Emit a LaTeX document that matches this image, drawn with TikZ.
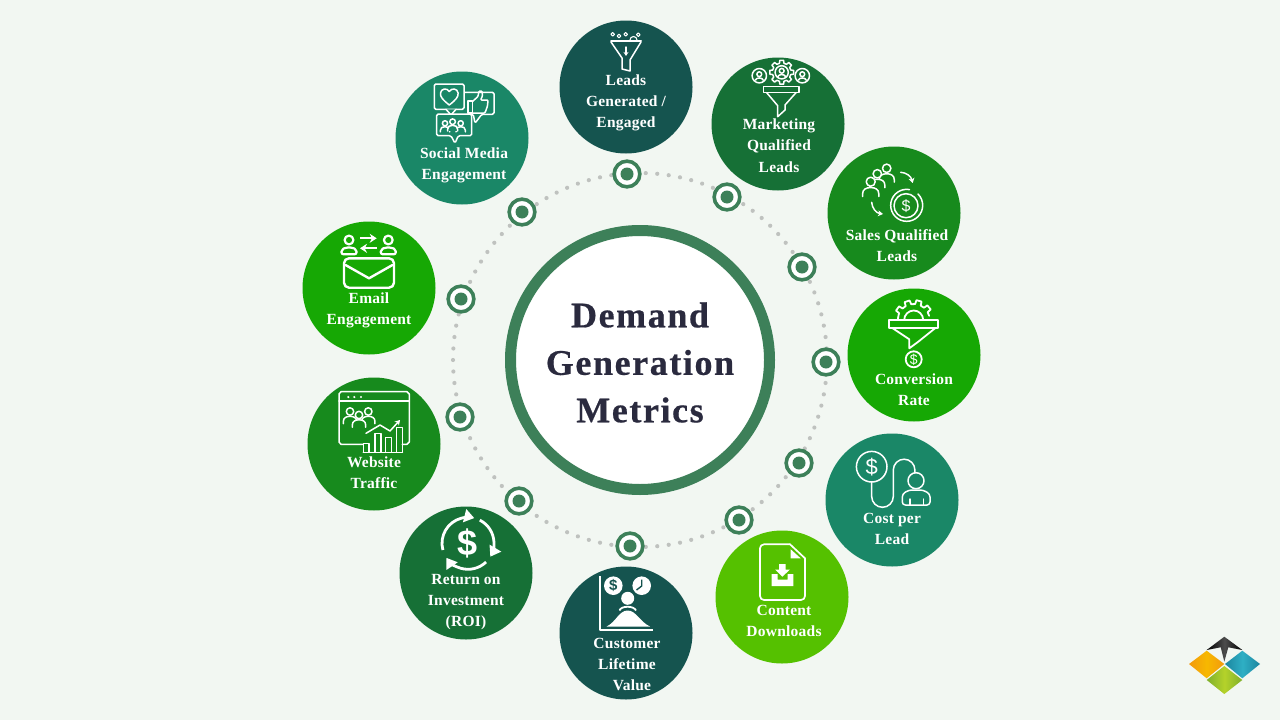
\documentclass[tikz,border=0pt]{standalone}
\usepackage{fontspec}
\setmainfont{Liberation Serif}
\newfontfamily\labelfont[LetterSpace=1.5]{Liberation Serif}
\newfontfamily\titlefont[LetterSpace=4.4, BoldFeatures={FakeBold=0.5}]{Liberation Serif}
\newfontfamily\signfont{Liberation Sans}
\usetikzlibrary{arrows.meta}

\definecolor{pagebg}{HTML}{F2F7F2}
\definecolor{ringgreen}{HTML}{3D8059}
\definecolor{dotgrey}{HTML}{BFC2BF}
\definecolor{titleink}{HTML}{2A2A3E}
\definecolor{deepteal}{HTML}{15544F}
\definecolor{forest}{HTML}{167036}
\definecolor{midgreen}{HTML}{178A1D}
\definecolor{brightgreen}{HTML}{16A804}
\definecolor{seagreen}{HTML}{1A8767}
\definecolor{limegreen}{HTML}{55C100}
\definecolor{logoamber}{HTML}{F39A0E}
\definecolor{logoyellow}{HTML}{F7B800}
\definecolor{logoteal}{HTML}{1C86A0}
\definecolor{logocyan}{HTML}{2FAFC4}
\definecolor{logoleaf}{HTML}{7FB02C}
\definecolor{logolime}{HTML}{B5D22A}

\tikzset{
	metric/.style = {circle, minimum size = 133, inner sep = 0, outer sep = 0},
	metrictext/.style = {text = white, align = center, inner sep = 0,
		font = \labelfont\bfseries\fontsize{15.5}{21.3}\selectfont},
	marker/.style = {circle, draw = ringgreen, line width = 3.6, fill = white, minimum size = 25.7, inner sep = 0},
	markercore/.style = {circle, fill = ringgreen, minimum size = 13, inner sep = 0},
	icon/.style = {draw = white, line width = 1.5, line join = round, line cap = round},
	dollar/.style = {text = white, inner sep = 0, font = \signfont\fontsize{#1}{#1}\selectfont},
	dollar/.default = 14,
	tip/.style = {-{Stealth[length = 5, width = 6]}}
}

\newcommand{\bust}[4]{%
	\begin{scope}[shift = {(#1, #2)}, scale = #3]
		\draw[icon, fill = #4] (-1.8, 3.3) -- (-1.8, 2.7) .. controls (-1.8, 1.7) and (-1, 1.3) .. (0, 1.3)
			.. controls (1, 1.3) and (1.8, 1.7) .. (1.8, 2.7) -- (1.8, 3.3);
		\draw[icon, fill = #4] (0, 0) circle (1);
	\end{scope}}

\newcommand{\gearoutline}[3]{%
	\begin{scope}[shift = {(#1, #2)}, scale = #3]
		\draw[icon] \foreach \a in {0, 45, ..., 315} {
			(\a - 14:1) -- (\a - 9:1.3) -- (\a + 9:1.3) -- (\a + 14:1) arc[start angle = \a + 14, end angle = \a + 31, radius = 1]};
	\end{scope}}

\begin{document}
\begin{tikzpicture}[x = 1pt, y = -1pt]
	\useasboundingbox (0, 0) rectangle (1280, 720);
	\fill[pagebg] (0, 0) rectangle (1280, 720);

	%	dotted ring
	\foreach \i in {1, ..., 102}
		\fill[dotgrey] (640, 360) ++(\i / 102 * 360:187) circle (2.1);

	%	centre
	\node[circle, draw = ringgreen, line width = 11, fill = white, minimum size = 259, inner sep = 0] (hub) at (640, 360) {};
	\node[text = titleink, align = center, inner sep = 0, font = \titlefont\bfseries\fontsize{36}{47.5}\selectfont]
		(hubtext) at (640, 362.5) {Demand\\Generation\\Metrics};

	%	markers on the ring
	\foreach \n/\x/\y in {a/627/174, b/727/197, c/802/267, d/826/362, e/799/463, f/739/520,
		g/630/546, h/519/501, i/460/417, j/461/299, k/522/212} {
		\node[marker] (mark\n) at (\x, \y) {};
		\node[markercore] (core\n) at (mark\n) {};
	}

	%	metric circles
	\foreach \n/\x/\y/\c in {leads/626/87/deepteal, marketing/778/124/forest, sales/894/213/midgreen,
		conversion/914/355/brightgreen, cost/892/500/seagreen, content/782/597/limegreen,
		customer/626/633/deepteal, roi/466/573/forest, website/374/444/midgreen,
		email/369/288/brightgreen, social/462/138/seagreen}
		\node[metric, fill = \c] (\n) at (\x, \y) {};

	%	labels
	\node[metrictext] (leadstext) at (626, 103) {Leads\\Generated /\\Engaged};
	\node[metrictext] (marketingtext) at (779, 145.5) {Marketing\\Qualified\\Leads};
	\node[metrictext] (salestext) at (897, 245.5) {Sales Qualified\\Leads};
	\node[metrictext] (conversiontext) at (914, 390) {Conversion\\Rate};
	\node[metrictext] (costtext) at (892, 529) {Cost per\\Lead};
	\node[metrictext] (contenttext) at (784, 621) {Content\\Downloads};
	\node[metrictext] (customertext) at (627, 664.5) {Customer\\Lifetime\\\hspace*{10pt}Value};
	\node[metrictext] (roitext) at (466, 602) {Return on\\Investment\\(ROI)};
	\node[metrictext] (websitetext) at (374, 473) {Website\\Traffic};
	\node[metrictext] (emailtext) at (369, 310.5) {Email\\Engagement};
	\node[metrictext] (socialtext) at (464, 165) {Social Media\\Engagement};

	%	icon leads
	\draw[icon, line width = 2] (611, 41) -- (641, 41);
	\draw[icon] (611, 42) -- (622, 58) -- (622, 69) -- (630, 71) -- (630, 60) -- (641, 42);
	\draw[icon, -{Stealth[length = 4, width = 5]}] (626, 47) -- (626, 56);
	\foreach \x/\y in {612.7/34.3, 619/36, 625.7/34.3, 638.3/34.7}
		\draw[icon, line width = 1.1] (\x, \y) circle (1.8);
	\draw[icon, line width = 1.1] (630, 40) arc[start angle = 180, end angle = 360, radius = 3.5];

	%	icon marketing
	\gearoutline{781.7}{72.3}{9.3}
	\foreach \x/\y/\r in {759.3/75.7/7.2, 781.7/72.3/6.6, 802.3/75.7/7.2} {
		\draw[icon] (\x, \y) circle (\r);
		\draw[icon] (\x, \y - 1.5) circle (2.4);
		\draw[icon] (\x - 4, \y + 4.5) .. controls (\x - 3, \y + 1.5) and (\x + 3, \y + 1.5) .. (\x + 4, \y + 4.5);
	}
	\draw[icon] (763.3, 86.7) rectangle (799, 92.7);
	\draw[icon] (766.7, 92.7) -- (777.7, 105.7) -- (777.7, 116.7) -- (785, 110) -- (785, 105) -- (796, 92.7);

	%	icon sales
	\bust{886.7}{168.3}{4.2}{midgreen}
	\bust{877.3}{173.8}{4.2}{midgreen}
	\bust{870.7}{181.7}{4.5}{midgreen}
	\draw[icon, tip] (900.7, 172.3) .. controls (906, 172.5) and (911, 176) .. (912.7, 183);
	\draw[icon, tip] (871.7, 202.3) .. controls (872, 208) and (876, 213) .. (883, 214);
	\draw[icon] (906, 205.7) circle (12);
	\draw[icon] (918, 194) arc[start angle = -45, end angle = 280, radius = 16];
	\node[dollar = 16] (salescoin) at (906, 205.7) {\$};

	%	icon conversion
	\begin{scope}[shift = {(913.7, 320)}]
		\draw[icon, line width = 1.8] (-16, 0) arc[start angle = 180, end angle = 200, radius = 16]
			\foreach \a in {205, 240, 275, 310} {
				-- (\a:16) -- (\a + 3:20) -- (\a + 18:20) -- (\a + 21:16) arc[start angle = \a + 21, end angle = \a + 35, radius = 16]};
		\draw[icon, line width = 1.8] (-9.5, 0) arc[start angle = 180, end angle = 360, radius = 9.5];
	\end{scope}
	\draw[icon, line width = 1.8] (889, 320) rectangle (938.3, 328.3);
	\draw[icon, line width = 1.8] (892.7, 328.3) -- (909.3, 339.3) -- (909.3, 348.3) -- (918.3, 341.7) -- (935, 328.3);
	\draw[icon, line width = 1.8] (913.7, 359.3) circle (8);
	\node[dollar = 14] (conversioncoin) at (913.7, 359.3) {\$};

	%	icon cost
	\draw[icon] (871.7, 466.7) circle (15.3);
	\node[dollar = 22] (costcoin) at (871.7, 466.7) {\$};
	\draw[icon] (871.7, 482) -- (871.7, 496.5) arc[start angle = 180, end angle = 0, radius = 10.8]
		-- (893.3, 470) arc[start angle = 180, end angle = 360, radius = 10.8] -- (915, 472.7);
	\draw[icon] (916, 480.7) circle (8);
	\draw[icon, rounded corners = 3] (902.3, 505) -- (902.3, 494) -- (909, 490) -- (923, 490) -- (930, 494) -- (930, 505) -- cycle;
	\draw[icon] (910, 499) -- (910, 505) (923.3, 499) -- (923.3, 505);

	%	icon content
	\draw[icon, line width = 1.7, rounded corners = 4] (790, 544.3) -- (760, 544.3) -- (760, 600) -- (805, 600) -- (805, 558.3);
	\draw[icon, line width = 1.7] (790, 544.3) -- (805, 558.3);
	\fill[white] (790.7, 549.3) -- (800.7, 558.3) -- (790.7, 558.3) -- cycle;
	\fill[white] (779, 564) -- (785.7, 564) -- (785.7, 569.5) -- (790, 569.5) -- (782.3, 576.7) -- (775, 569.5) -- (779, 569.5) -- cycle;
	\fill[white] (771.7, 574) -- (777.5, 574) -- (777.5, 579.5) -- (787.5, 579.5) -- (787.5, 574) -- (793.3, 574) -- (793.3, 586) -- (771.7, 586) -- cycle;

	%	icon customer
	\draw[icon, line width = 2, line cap = butt] (600, 576) -- (600, 630) -- (653.3, 630);
	\fill[white] (613.3, 585.7) circle (9.3);
	\node[text = deepteal, inner sep = 0, font = \signfont\bfseries\fontsize{15}{15}\selectfont] (customercoin) at (613.3, 585.7) {\$};
	\fill[white] (641.7, 585.7) circle (9.3);
	\draw[deepteal, line width = 1.4] (641.7, 579.5) -- (641.7, 586) -- (636.5, 590);
	\fill[white] (627.7, 598.3) circle (6.5);
	\draw[white, line width = 1.8] (619.5, 610.5) .. controls (621, 605.5) and (634, 605.5) .. (636, 610.5);
	\fill[white] (606.7, 626.5) .. controls (616, 622) and (619, 610.5) .. (627.7, 610.5)
		.. controls (636, 610.5) and (640, 622) .. (650, 626.5) -- cycle;

	%	icon roi
	\begin{scope}[shift = {(468, 543.3)}]
		\draw[white, line width = 2.8, -{Triangle[length = 10, width = 13]}] (165:26) arc[start angle = 165, end angle = 284, radius = 26];
		\draw[white, line width = 2.8, -{Triangle[length = 10, width = 13]}] (297:26) arc[start angle = 297, end angle = 391, radius = 26];
		\draw[white, line width = 2.8, -{Triangle[length = 10, width = 13]}] (46:26) arc[start angle = 46, end angle = 146, radius = 26];
	\end{scope}
	\node[text = white, inner sep = 0, font = \signfont\bfseries\fontsize{36}{36}\selectfont] (roicoin) at (468, 543.3) {\$};

	%	icon website
	\draw[icon] (363.3, 444.3) -- (341, 444.3) -- (339, 442) -- (339, 394) -- (341, 391.7) -- (407, 391.7) -- (409.3, 394) -- (409.3, 442) -- (407, 444.3) -- (402.3, 444.3);
	\draw[icon] (339, 401) -- (409.3, 401);
	\foreach \x in {348.3, 354.3, 361}
		\fill[white] (\x, 397) circle (1.2);
	\bust{350}{411.5}{3.7}{midgreen}
	\bust{368.3}{411.5}{3.7}{midgreen}
	\bust{359}{415}{3.7}{midgreen}
	\draw[icon, tip] (366, 433.3) -- (380, 425) -- (390, 431) -- (400, 420);
	\foreach \l/\r/\t in {363.3/369/443.3, 375/381/433.3, 385.7/391.7/437.7, 396.7/402.3/427.7}
		\draw[icon] (\l, 452.3) rectangle (\r, \t);
	\draw[icon] (363.3, 452.3) -- (402.3, 452.3);

	%	icon email
	\foreach \x in {349, 388.3} {
		\draw[icon, line width = 2.2] (\x, 240) circle (4.4);
		\draw[icon, line width = 2.2, rounded corners = 2] (\x - 7.5, 254.3) -- (\x - 7.5, 249.5) -- (\x - 3, 247.5) -- (\x + 3, 247.5) -- (\x + 7.5, 249.5) -- (\x + 7.5, 254.3) -- cycle;
	}
	\draw[white, line width = 2.2, -{Stealth[length = 7, width = 9]}] (360, 238.3) -- (376.7, 238.3);
	\draw[white, line width = 2.2, -{Stealth[length = 7, width = 9]}] (376.7, 248.3) -- (360, 248.3);
	\draw[icon, line width = 2.4, rounded corners = 5] (344, 258.3) rectangle (394, 287.7);
	\draw[icon, line width = 2.4] (345.5, 265) -- (369, 278.3) -- (392.5, 265);

	%	icon social
	\draw[icon, rounded corners = 1.5] (464, 92.3) -- (494, 92.3) -- (494, 114.3) -- (481.7, 114.3) -- (475, 123.3) -- (473.3, 114.3) -- (467, 114.3);
	\draw[icon, rounded corners = 1.5, fill = seagreen] (434.3, 84) rectangle (464, 109.3);
	\draw[icon, fill = seagreen] (446, 109.3) -- (451, 115) -- (456, 109.3);
	\draw[icon] (449.3, 105) .. controls (443, 100) and (440, 97) .. (440.5, 93)
		.. controls (441, 88.5) and (447, 87.5) .. (449.3, 91.5)
		.. controls (451.6, 87.5) and (457.6, 88.5) .. (458.1, 93)
		.. controls (458.6, 97) and (455.6, 100) .. cycle;
	\draw[icon] (468, 101) rectangle (472.5, 113);
	\draw[icon, rounded corners = 1] (472.5, 101.5) -- (478, 96.5) -- (479, 91) -- (482, 91) -- (482.5, 96) -- (480.5, 100) -- (488, 100) -- (487.5, 106) -- (485, 113) -- (472.5, 113);
	\draw[icon, rounded corners = 1.5, fill = seagreen] (451, 135.7) -- (436.7, 135.7) -- (436.7, 114) -- (471.7, 114) -- (471.7, 135.7) -- (458.3, 135.7) -- (455, 143.3) -- cycle;
	\bust{445}{123.3}{2.6}{seagreen}
	\bust{460.7}{123.3}{2.6}{seagreen}
	\bust{452.6}{121.7}{2.8}{seagreen}

	%	logo
	\shade[left color = logoamber, right color = logoamber, middle color = logoyellow] (1206.7, 650.7) -- (1224.3, 664) -- (1206.7, 678.3) -- (1189, 664) -- cycle;
	\shade[left color = logoteal, right color = logoteal, middle color = logocyan] (1242.3, 650.7) -- (1260, 664) -- (1242.3, 678.3) -- (1225, 664) -- cycle;
	\shade[left color = logoleaf, right color = logoleaf, middle color = logolime] (1224.3, 666) -- (1242.3, 680) -- (1224.3, 694) -- (1206.7, 680) -- cycle;
	\shade[left color = black, right color = black, middle color = black!70] (1224.3, 636.7) -- (1242.3, 650) -- (1228.3, 647.3) -- (1224.3, 661.7) -- (1220.7, 647.3) -- (1206.7, 650) -- cycle;
\end{tikzpicture}
\end{document}
